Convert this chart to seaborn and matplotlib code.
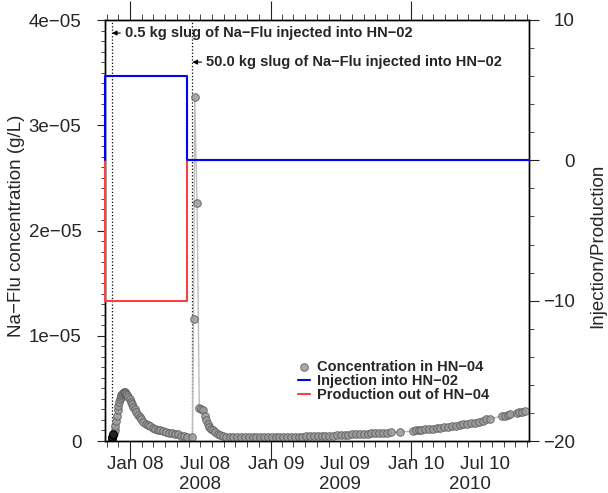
import numpy as np
import pandas as pd
import matplotlib
matplotlib.use('Agg')
import matplotlib.pyplot as plt
import matplotlib.dates as mdates
from matplotlib.ticker import MultipleLocator
import seaborn as sns

# === данные: концентрация Na-Flu в HN-04 (единицы 1e-06 г/л) ===
conc_dates = [
    '2007-11-14', '2007-11-15', '2007-11-16', '2007-11-17', '2007-11-19', '2007-11-21',
    '2007-11-23', '2007-11-25', '2007-11-27', '2007-11-29', '2007-12-01', '2007-12-03',
    '2007-12-05', '2007-12-07', '2007-12-09', '2007-12-11', '2007-12-13', '2007-12-15',
    '2007-12-17', '2007-12-19', '2007-12-21', '2007-12-24', '2007-12-27', '2007-12-30',
    '2008-01-02', '2008-01-05', '2008-01-08', '2008-01-12', '2008-01-16', '2008-01-20',
    '2008-01-25', '2008-01-30', '2008-02-04', '2008-02-10', '2008-02-16', '2008-02-22',
    '2008-02-28', '2008-03-05', '2008-03-12', '2008-03-19', '2008-03-26', '2008-04-03',
    '2008-04-11', '2008-04-19', '2008-04-27', '2008-05-05', '2008-05-13', '2008-05-21',
    '2008-05-29', '2008-06-11',
    '2008-06-14', '2008-06-17', '2008-06-23', '2008-06-29', '2008-07-03', '2008-07-09',
    '2008-07-13', '2008-07-17', '2008-07-21', '2008-07-25', '2008-07-30', '2008-08-04',
    '2008-08-10', '2008-08-16', '2008-08-23', '2008-08-30',
    '2008-09-06', '2008-09-16', '2008-09-26', '2008-10-06', '2008-10-16', '2008-10-26',
    '2008-11-05', '2008-11-15', '2008-11-25', '2008-12-05', '2008-12-15', '2008-12-25',
    '2009-01-04', '2009-01-14', '2009-01-24', '2009-02-03', '2009-02-13', '2009-02-23',
    '2009-03-05', '2009-03-15', '2009-03-25', '2009-04-04', '2009-04-14', '2009-04-24',
    '2009-05-04', '2009-05-14', '2009-05-24', '2009-06-03', '2009-06-13', '2009-06-23',
    '2009-07-03', '2009-07-13', '2009-07-23', '2009-08-02', '2009-08-12', '2009-08-22',
    '2009-09-01', '2009-09-11', '2009-09-21', '2009-10-01', '2009-10-11', '2009-10-21',
    '2009-10-31', '2009-11-10', '2009-12-05',
    '2010-01-08', '2010-01-15', '2010-01-22', '2010-01-29', '2010-02-08', '2010-02-18',
    '2010-02-28', '2010-03-10', '2010-03-20', '2010-03-30', '2010-04-09', '2010-04-19',
    '2010-04-29', '2010-05-09', '2010-05-19', '2010-05-29', '2010-06-08', '2010-06-18',
    '2010-06-28', '2010-07-08', '2010-07-18', '2010-07-26',
    '2010-08-28', '2010-09-04', '2010-09-11', '2010-09-18', '2010-10-05', '2010-10-12',
    '2010-10-19', '2010-10-26',
]
conc_values = [
    0.2, 0.4, 0.6, 0.7, 0.8, 1.0,
    1.4, 1.9, 2.4, 2.9, 3.3, 3.7,
    4.0, 4.2, 4.4, 4.5, 4.6, 4.65,
    4.65, 4.6, 4.5, 4.35, 4.15, 3.95,
    3.75, 3.5, 3.25, 3.0, 2.75, 2.5,
    2.25, 2.05, 1.85, 1.65, 1.5, 1.38,
    1.27, 1.18, 1.08, 1.0, 0.93, 0.87,
    0.8, 0.74, 0.68, 0.62, 0.52, 0.45,
    0.42, 0.40,
    11.6, 32.7, 22.6, 3.1, 3.05, 2.95,
    2.4, 2.0, 1.65, 1.35, 1.1, 1.0,
    0.85, 0.7, 0.55, 0.47,
    0.42, 0.41, 0.40, 0.40, 0.39, 0.39,
    0.39, 0.38, 0.38, 0.38, 0.38, 0.38,
    0.38, 0.38, 0.39, 0.39, 0.39, 0.40,
    0.40, 0.41, 0.42, 0.43, 0.44, 0.45,
    0.46, 0.47, 0.49, 0.50, 0.52, 0.54,
    0.56, 0.58, 0.60, 0.62, 0.64, 0.66,
    0.68, 0.70, 0.72, 0.74, 0.76, 0.78,
    0.80, 0.81, 0.85,
    0.95, 1.0, 1.03, 1.06, 1.1, 1.14,
    1.18, 1.22, 1.27, 1.32, 1.37, 1.42,
    1.47, 1.52, 1.57, 1.62, 1.68, 1.74,
    1.82, 1.92, 2.05, 2.12,
    2.35, 2.4, 2.45, 2.52, 2.65, 2.72,
    2.78, 2.82,
]
n_dark = 4  # первые точки (чёрные)

# === закачка / отбор (правая ось) ===
step_dates = ['2007-10-27', '2007-10-27', '2008-05-27', '2008-05-27', '2010-11-06']
injection_values = [0, 6, 6, 0, 0]
production_values = [0, -10, -10, 0, 0]

slug_dates = ['2007-11-14', '2008-06-11']
slug_texts = ['0.5 kg slug of Na\u2212Flu injected into HN\u221202',
              '50.0 kg slug of Na\u2212Flu injected into HN\u221202']

xlim_dates = ['2007-10-27', '2010-11-06']
xlabel_dates = ['2008-01-15', '2008-07-15', '2009-01-15', '2009-07-15', '2010-01-15', '2010-07-15']
xlabel_texts = ['Jan 08', 'Jul 08', 'Jan 09', 'Jul 09', 'Jan 10', 'Jul 10']
year_dates = ['2008-07-01', '2009-07-02', '2010-06-04']
year_texts = ['2008', '2009', '2010']

left_ticks = [0, 1e-5, 2e-5, 3e-5, 4e-5]
left_ticklabels = ['0', '1e\u221205', '2e\u221205', '3e\u221205', '4e\u221205']
right_ticks = [-20, -10, 0, 10]
right_ticklabels = ['\u221220', '\u221210', '0', '10']

# === рисование ===
sns.set_style('ticks')
plt.rcParams['font.family'] = ['Liberation Sans', 'DejaVu Sans']

df = pd.DataFrame({'date': pd.to_datetime(conc_dates),
                   'conc': np.array(conc_values) * 1e-6})
steps = pd.DataFrame({'date': pd.to_datetime(step_dates),
                      'inj': injection_values, 'prod': production_values})

fig = plt.figure(figsize=(6.08, 4.93), dpi=100)
ax = fig.add_axes([105 / 608, 52 / 493, 424 / 608, 421 / 493])
ax2 = ax.twinx()

sns.lineplot(data=df, x='date', y='conc', ax=ax, color='#bdbdbd', lw=1.0,
             estimator=None, sort=False, legend=False, zorder=2)
sns.scatterplot(data=df, x='date', y='conc', ax=ax, color='#9a9a9a', edgecolor='#5a5a5a',
                s=30, linewidth=0.7, alpha=0.85, label='Concentration in HN\u221204', zorder=3)
sns.scatterplot(data=df.iloc[:n_dark], x='date', y='conc', ax=ax, color='#222222',
                edgecolor='black', s=30, linewidth=0.7, legend=False, zorder=4)

for d in slug_dates:
    ax.axvline(mdates.date2num(pd.Timestamp(d)), color='black', ls=':', lw=0.9, zorder=1)

sns.lineplot(data=steps, x='date', y='prod', ax=ax2, color='#ff4040', lw=1.5,
             estimator=None, sort=False, label='Production out of HN\u221204',
             zorder=3, clip_on=False)
sns.lineplot(data=steps, x='date', y='inj', ax=ax2, color='#0000ff', lw=1.5,
             estimator=None, sort=False, label='Injection into HN\u221202',
             zorder=3, clip_on=False)

ax.set_xlim(mdates.date2num(pd.Timestamp(xlim_dates[0])), mdates.date2num(pd.Timestamp(xlim_dates[1])))
ax.set_ylim(0, 4e-5)
ax2.set_ylim(-20, 10)

# оси
ax.xaxis.set_major_locator(mdates.YearLocator())
ax.xaxis.set_minor_locator(mdates.MonthLocator())
ax.tick_params(axis='x', which='major', length=14, width=0.8, top=True, bottom=True,
               labelbottom=False, color='#222222')
ax.tick_params(axis='x', which='minor', length=4, width=0.7, top=True, bottom=True, color='#444444')

ax.set_yticks(left_ticks, left_ticklabels)
ax.yaxis.set_minor_locator(MultipleLocator(1e-6))
ax.tick_params(axis='y', which='major', length=6, width=0.8, pad=11, labelsize=13.5, color='#222222')
ax.tick_params(axis='y', which='minor', length=3, width=0.7, color='#444444')

ax2.set_yticks(right_ticks, right_ticklabels)
ax2.yaxis.set_minor_locator(MultipleLocator(2))
ax2.tick_params(axis='y', which='major', length=7, width=0.8, pad=26, labelsize=13.5, color='#222222')
ax2.tick_params(axis='y', which='minor', length=3.5, width=0.7, color='#444444')
for lab in ax2.get_yticklabels():
    lab.set_horizontalalignment('right')

for a in (ax, ax2):
    for sp in a.spines.values():
        sp.set_color('black')
        sp.set_linewidth(1.0)

ax.set_xlabel('')
ax.set_ylabel('Na\u2212Flu concentration (g/L)', fontsize=13.5)
ax.yaxis.set_label_coords(-0.189, 0.511)
ax2.set_xlabel('')
ax2.set_ylabel('Injection/Production', fontsize=13.5)
ax2.yaxis.set_label_coords(1.1415, 0.463)

xtr = ax.get_xaxis_transform()
for d, t in zip(xlabel_dates, xlabel_texts):
    ax.text(mdates.date2num(pd.Timestamp(d)), -0.057, t, transform=xtr,
            ha='center', va='center', fontsize=13.5)
for d, t in zip(year_dates, year_texts):
    ax.text(mdates.date2num(pd.Timestamp(d)), -0.1045, t, transform=xtr,
            ha='center', va='center', fontsize=13.5)

# подписи закачек
text_pos = [('2007-12-18', 0.969), ('2008-07-17', 0.900)]
for d, t, (td, ty) in zip(slug_dates, slug_texts, text_pos):
    ax.annotate(t, xy=(mdates.date2num(pd.Timestamp(d)), ty), xycoords=xtr,
                xytext=(mdates.date2num(pd.Timestamp(td)), ty), textcoords=xtr,
                ha='left', va='center', fontsize=10.5, fontweight='bold',
                arrowprops=dict(arrowstyle='-|>', color='black', lw=0.8,
                                mutation_scale=7, shrinkA=1, shrinkB=0))

# легенда
h1, l1 = ax.get_legend_handles_labels()
h2, l2 = ax2.get_legend_handles_labels()
hmap = dict(zip(l1 + l2, h1 + h2))
order = ['Concentration in HN\u221204', 'Injection into HN\u221202', 'Production out of HN\u221204']
if ax.get_legend() is not None:
    ax.get_legend().remove()
ax2.legend([hmap[k] for k in order], order, loc='upper left', bbox_to_anchor=(0.455, 0.192),
           frameon=False, prop={'weight': 'bold', 'size': 10.5}, handlelength=0.8,
           handletextpad=0.5, labelspacing=0.0, borderpad=0, borderaxespad=0)

fig.savefig('out.png', dpi=100)
